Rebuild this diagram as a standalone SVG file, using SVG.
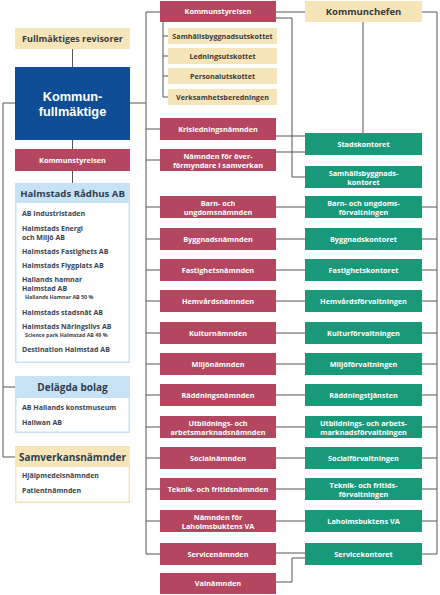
<svg xmlns="http://www.w3.org/2000/svg" width="440" height="595" viewBox="0 0 440 595">
<style>
text{font-family:"Open Sans","Liberation Sans",sans-serif;font-weight:700;text-anchor:middle}
.red{fill:#b5465f}
.grn{fill:#17997a}
.bei{fill:#f6e5b9}
.w{fill:#fff;font-size:7.3px}
.d{fill:#3a3a3a;font-size:7.2px}
.hd{fill:#2f3d4f;font-size:9.6px}
.li{fill:#3a4350;font-size:7px;text-anchor:start}
.sm{fill:#3a4350;font-size:5.3px;text-anchor:start}
.big{fill:#fff;font-family:"Liberation Sans",Arial,sans-serif;font-size:12.8px}
.c line,.c polyline{stroke:#555;stroke-width:1;fill:none}
</style>
<rect width="440" height="595" fill="#fff"/>
<g class="c" id="connectors">
<polyline points="15,103 3,103 3,457 15,457"/>
<line x1="3" y1="387" x2="15" y2="387"/>
<line x1="72.5" y1="49" x2="72.5" y2="67"/>
<line x1="72.5" y1="140" x2="72.5" y2="149"/>
<line x1="72.5" y1="171" x2="72.5" y2="183"/>
<line x1="130" y1="103" x2="146" y2="103"/>
<polyline points="160,12 146,12 146,554 160,554"/>
<line x1="146" y1="129" x2="160" y2="129"/>
<line x1="146" y1="160" x2="160" y2="160"/>
<line x1="146" y1="207" x2="160" y2="207"/>
<line x1="146" y1="239" x2="160" y2="239"/>
<line x1="146" y1="270" x2="160" y2="270"/>
<line x1="146" y1="301" x2="160" y2="301"/>
<line x1="146" y1="333" x2="160" y2="333"/>
<line x1="146" y1="364" x2="160" y2="364"/>
<line x1="146" y1="395" x2="160" y2="395"/>
<line x1="146" y1="427" x2="160" y2="427"/>
<line x1="146" y1="458" x2="160" y2="458"/>
<line x1="146" y1="489" x2="160" y2="489"/>
<line x1="146" y1="521" x2="160" y2="521"/>
<polyline points="163,22 163,97 168,97"/>
<line x1="163" y1="36" x2="168" y2="36"/>
<line x1="163" y1="56" x2="168" y2="56"/>
<line x1="163" y1="76" x2="168" y2="76"/>
<line x1="276" y1="12" x2="305" y2="12"/>
<polyline points="276,18 292,18 292,177 305,177"/>
<line x1="363" y1="22" x2="363" y2="133"/>
<polyline points="422,12 437,12 437,554 422,554"/>
<line x1="276" y1="136" x2="305" y2="136"/>
<line x1="276" y1="152" x2="305" y2="152"/>
<line x1="276" y1="207" x2="305" y2="207"/>
<line x1="276" y1="239" x2="305" y2="239"/>
<line x1="276" y1="270" x2="305" y2="270"/>
<line x1="276" y1="301" x2="305" y2="301"/>
<line x1="276" y1="333" x2="305" y2="333"/>
<line x1="276" y1="364" x2="305" y2="364"/>
<line x1="276" y1="395" x2="305" y2="395"/>
<line x1="276" y1="427" x2="305" y2="427"/>
<line x1="276" y1="458" x2="305" y2="458"/>
<line x1="276" y1="489" x2="305" y2="489"/>
<line x1="276" y1="521" x2="305" y2="521"/>
<line x1="276" y1="553" x2="305" y2="553"/>
<polyline points="276,582 292,582 292,558 305,558"/>
<line x1="422" y1="207" x2="437" y2="207"/>
<line x1="422" y1="239" x2="437" y2="239"/>
<line x1="422" y1="270" x2="437" y2="270"/>
<line x1="422" y1="301" x2="437" y2="301"/>
<line x1="422" y1="333" x2="437" y2="333"/>
<line x1="422" y1="364" x2="437" y2="364"/>
<line x1="422" y1="395" x2="437" y2="395"/>
<line x1="422" y1="427" x2="437" y2="427"/>
<line x1="422" y1="458" x2="437" y2="458"/>
<line x1="422" y1="489" x2="437" y2="489"/>
<line x1="422" y1="521" x2="437" y2="521"/>
</g>
<g id="fullmaktiges-revisorer"><rect class="bei" x="15" y="28" width="115" height="21"/><text class="d" x="72.5" y="41.8" style="font-size:9px">Fullmäktiges revisorer</text></g>
<g id="kommunfullmaktige"><rect x="15" y="67" width="115" height="73" fill="#0f4d97"/><text class="big" x="72.5" y="101">Kommun-</text><text class="big" x="72.5" y="116">fullmäktige</text></g>
<g id="kommunstyrelsen-left"><rect class="red" x="15" y="149" width="115" height="22"/><text class="w" x="72.5" y="162.6">Kommunstyrelsen</text></g>
<g id="radhus"><rect x="15.75" y="183.75" width="113.5" height="178.5" fill="#fff" stroke="#c8e2f5" stroke-width="1.5"/><rect x="15" y="183" width="115" height="20" fill="#c8e2f5"/><text class="hd" x="72.5" y="197">Halmstads Rådhus AB</text>
<text class="li" x="22" y="215.5">AB Industristaden</text>
<text class="li" x="22" y="230.5">Halmstads Energi</text>
<text class="li" x="22" y="239.5">och Miljö AB</text>
<text class="li" x="22" y="253.5">Halmstads Fastighets AB</text>
<text class="li" x="22" y="267.5">Halmstads Flygplats AB</text>
<text class="li" x="22" y="281.5">Hallands hamnar</text>
<text class="li" x="22" y="290.5">Halmstad AB</text>
<text class="sm" x="25" y="298.8">Hallands Hamnar AB 50 %</text>
<text class="li" x="22" y="314.5">Halmstads stadsnät AB</text>
<text class="li" x="22" y="328.5">Halmstads Näringslivs AB</text>
<text class="sm" x="25" y="336.8">Science park Halmstad AB 49 %</text>
<text class="li" x="22" y="351.5">Destination Halmstad AB</text></g>
<g id="delagda"><rect x="15.75" y="376.75" width="113.5" height="55.5" fill="#fff" stroke="#c8e2f5" stroke-width="1.5"/><rect x="15" y="376" width="115" height="22" fill="#c8e2f5"/><text class="hd" x="72.5" y="390.5" style="font-size:10px">Delägda bolag</text>
<text class="li" x="22" y="409.5">AB Hallands konstmuseum</text>
<text class="li" x="22" y="424.5">Hallwan AB</text></g>
<g id="samverkan"><rect x="15.75" y="446.75" width="113.5" height="55.5" fill="#fff" stroke="#f6e5b9" stroke-width="1.5"/><rect class="bei" x="15" y="446" width="115" height="21"/><text class="hd" x="72.5" y="460.5" style="font-size:10px">Samverkansnämnder</text>
<text class="li" x="22" y="477.5">Hjälpmedelsnämnden</text>
<text class="li" x="22" y="492.5">Patientnämnden</text></g>
<g id="kommunstyrelsen"><rect class="red" x="160" y="1" width="116" height="21"/><text class="w" x="218" y="14.2">Kommunstyrelsen</text></g>
<g id="samhallsbyggnadsutskottet"><rect class="bei" x="168" y="28" width="109" height="16"/><text class="d" x="222.5" y="38.6">Samhällsbyggnadsutskottet</text></g>
<g id="ledningsutskottet"><rect class="bei" x="168" y="48" width="109" height="16"/><text class="d" x="222.5" y="58.6">Ledningsutskottet</text></g>
<g id="personalutskottet"><rect class="bei" x="168" y="68" width="109" height="16"/><text class="d" x="222.5" y="78.6">Personalutskottet</text></g>
<g id="verksamhetsberedningen"><rect class="bei" x="168" y="89" width="109" height="16"/><text class="d" x="222.5" y="99.6">Verksamhetsberedningen</text></g>
<g id="kommunchefen"><rect class="bei" x="305" y="1" width="117" height="21"/><text class="d" x="363.5" y="15" style="font-size:9.5px">Kommunchefen</text></g>
<g id="krisledningsnamnden"><rect class="red" x="160" y="118" width="116" height="22"/><text class="w" x="218" y="131.6">Krisledningsnämnden</text></g>
<g id="overformyndare"><rect class="red" x="160" y="149" width="116" height="22"/><text class="w" x="218" y="158.5">Nämnden för över-</text><text class="w" x="218" y="167.5">förmyndare i samverkan</text></g>
<g id="stadskontoret"><rect class="grn" x="305" y="133" width="117" height="22"/><text class="w" x="363.5" y="146.6">Stadskontoret</text></g>
<g id="samhallsbyggnadskontoret"><rect class="grn" x="305" y="166" width="117" height="22"/><text class="w" x="363.5" y="175.5">Samhällsbyggnads-</text><text class="w" x="363.5" y="184.5">kontoret</text></g>
<g id="barn-n"><rect class="red" x="160" y="196" width="116" height="22"/><text class="w" x="218" y="205.5">Barn- och</text><text class="w" x="218" y="214.5">ungdomsnämnden</text></g>
<g id="barn-f"><rect class="grn" x="305" y="196" width="117" height="22"/><text class="w" x="363.5" y="205.5">Barn- och ungdoms-</text><text class="w" x="363.5" y="214.5">förvaltningen</text></g>
<g id="bygg-n"><rect class="red" x="160" y="228" width="116" height="22"/><text class="w" x="218" y="241.6">Byggnadsnämnden</text></g>
<g id="bygg-f"><rect class="grn" x="305" y="228" width="117" height="22"/><text class="w" x="363.5" y="241.6">Byggnadskontoret</text></g>
<g id="fast-n"><rect class="red" x="160" y="259" width="116" height="22"/><text class="w" x="218" y="272.6">Fastighetsnämnden</text></g>
<g id="fast-f"><rect class="grn" x="305" y="259" width="117" height="22"/><text class="w" x="363.5" y="272.6">Fastighetskontoret</text></g>
<g id="hemv-n"><rect class="red" x="160" y="290" width="116" height="22"/><text class="w" x="218" y="303.6">Hemvårdsnämnden</text></g>
<g id="hemv-f"><rect class="grn" x="305" y="290" width="117" height="22"/><text class="w" x="363.5" y="303.6">Hemvårdsförvaltningen</text></g>
<g id="kultur-n"><rect class="red" x="160" y="322" width="116" height="22"/><text class="w" x="218" y="335.6">Kulturnämnden</text></g>
<g id="kultur-f"><rect class="grn" x="305" y="322" width="117" height="22"/><text class="w" x="363.5" y="335.6">Kulturförvaltningen</text></g>
<g id="miljo-n"><rect class="red" x="160" y="353" width="116" height="22"/><text class="w" x="218" y="366.6">Miljönämnden</text></g>
<g id="miljo-f"><rect class="grn" x="305" y="353" width="117" height="22"/><text class="w" x="363.5" y="366.6">Miljöförvaltningen</text></g>
<g id="radd-n"><rect class="red" x="160" y="384" width="116" height="22"/><text class="w" x="218" y="397.6">Räddningsnämnden</text></g>
<g id="radd-f"><rect class="grn" x="305" y="384" width="117" height="22"/><text class="w" x="363.5" y="397.6">Räddningstjänsten</text></g>
<g id="utb-n"><rect class="red" x="160" y="416" width="116" height="22"/><text class="w" x="218" y="425.5">Utbildnings- och</text><text class="w" x="218" y="434.5">arbetsmarknadsnämnden</text></g>
<g id="utb-f"><rect class="grn" x="305" y="416" width="117" height="22"/><text class="w" x="363.5" y="425.5">Utbildnings- och arbets-</text><text class="w" x="363.5" y="434.5">marknadsförvaltningen</text></g>
<g id="social-n"><rect class="red" x="160" y="447" width="116" height="22"/><text class="w" x="218" y="460.6">Socialnämnden</text></g>
<g id="social-f"><rect class="grn" x="305" y="447" width="117" height="22"/><text class="w" x="363.5" y="460.6">Socialförvaltningen</text></g>
<g id="teknik-n"><rect class="red" x="160" y="478" width="116" height="22"/><text class="w" x="218" y="491.6">Teknik- och fritidsnämnden</text></g>
<g id="teknik-f"><rect class="grn" x="305" y="478" width="117" height="22"/><text class="w" x="363.5" y="487.5">Teknik- och fritids-</text><text class="w" x="363.5" y="496.5">förvaltningen</text></g>
<g id="laholm-n"><rect class="red" x="160" y="510" width="116" height="22"/><text class="w" x="218" y="519.5">Nämnden för</text><text class="w" x="218" y="528.5">Laholmsbuktens VA</text></g>
<g id="laholm-f"><rect class="grn" x="305" y="510" width="117" height="22"/><text class="w" x="363.5" y="523.6">Laholmsbuktens VA</text></g>
<g id="service-n"><rect class="red" x="160" y="543" width="116" height="22"/><text class="w" x="218" y="556.6">Servicenämnden</text></g>
<g id="service-f"><rect class="grn" x="305" y="543" width="117" height="22"/><text class="w" x="363.5" y="556.6">Servicekontoret</text></g>
<g id="valnamnden"><rect class="red" x="160" y="573" width="116" height="21"/><text class="w" x="218" y="586.2">Valnämnden</text></g>
</svg>
